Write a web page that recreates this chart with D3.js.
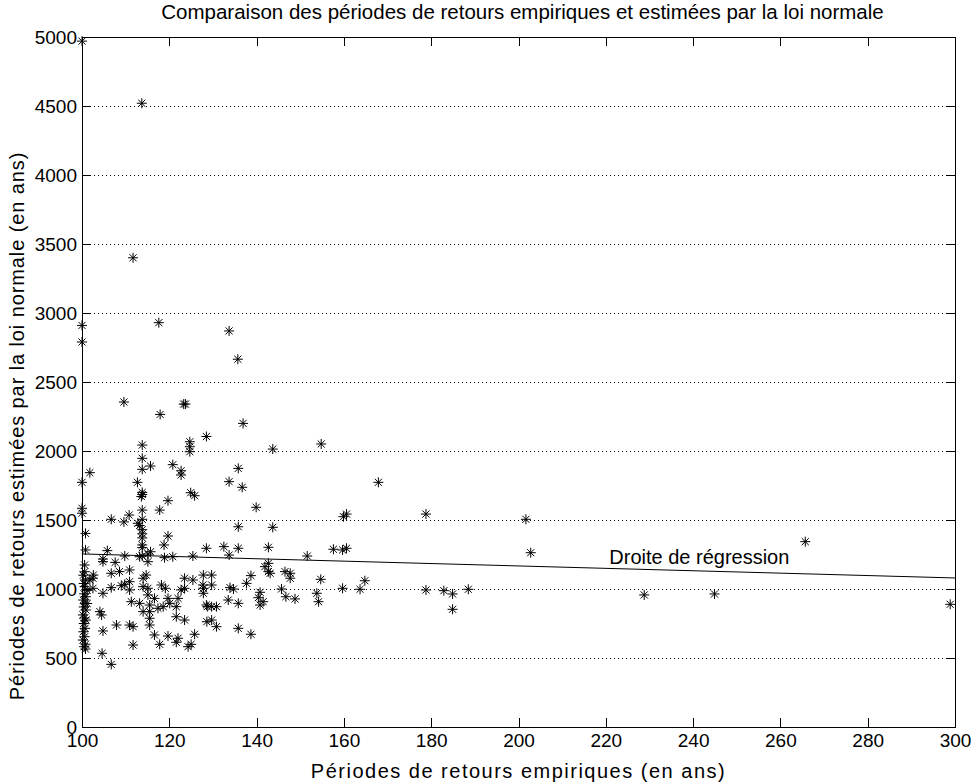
<!DOCTYPE html>
<html>
<head>
<meta charset="utf-8">
<script src="https://cdn.jsdelivr.net/npm/d3@7"></script>
<style>
  body { margin: 0; background: #fff; }
  text { font-family: "Liberation Sans", Arial, Helvetica, sans-serif; fill: #000; }
</style>
</head>
<body>
<svg id="chart" width="973" height="782"></svg>
<script>
// empirical return periods (years)
const empX = [
  100, 113.7, 111.7, 100, 100, 117.6, 133.7, 135.7, 109.6, 123.3, 123.7, 117.9, 136.9, 128.5,
  124.7, 124.7, 124.7, 143.7, 154.8, 113.8, 113.8, 115.7, 113.8, 120.8, 122.7, 122.7, 101.8,
  100, 112.7, 113.8, 113.8, 113.6, 124.9, 125.8, 119.7, 117.8, 113.8, 100, 100, 106.7, 109.6,
  110.8, 113.8, 113.2, 113.8, 113.8, 113.8, 112.8, 100.8, 119.7, 118.8, 113.8, 113.8, 115.7,
  100.8, 105.8, 109.8, 113.8, 115.1, 120.8, 125.4, 128.5, 104.8, 100.6, 104.8, 107.6, 113.2,
  118.9, 115.1,
  100.6, 100.3, 100.8, 100.4, 100.6, 101.2, 100.5, 100.9, 100.3, 100.7, 100.4, 100.9, 100.2,
  100.6, 100.9, 100.4, 100.7, 100.3, 100.6, 100.2, 100.8, 100.5, 100.8,
  102.5, 102.5, 104.8, 106.7, 108.6, 110.9, 106.7, 109.0, 109.8, 110.9, 110.9, 114.0, 114.7,
  114.0, 115.1, 115.1, 111.3, 113.2, 115.5, 114.0, 115.5, 115.5, 115.5, 118.2, 119.1, 116.6,
  119.7, 120.1, 118.6, 117.4, 122.0, 121.6, 123.5, 123.5, 122.7, 125.4,
  127.8, 129.7, 129.7, 127.7, 127.8, 127.8, 128.5, 128.6, 121.6, 123.5, 107.9, 110.9, 111.7,
  116.6, 119.7, 117.8, 122.0, 121.6, 125.8, 125.0, 124.3, 104.8, 111.7, 104.6, 106.7, 102.6,
  101.8, 104.1, 104.5, 101.2,
  135.8, 133.7, 136.7, 139.9, 135.8, 143.7, 132.5, 135.8, 142.7, 133.7, 151.6,
  141.9, 142.7, 142.7, 143.1, 146.5, 147.7, 147.7, 154.7, 138.7, 137.7, 133.9, 134.7, 133.5,
  135.8, 128.7, 129.7, 130.8, 129.7, 130.8, 135.8, 138.7, 140.8, 140.4, 140.8, 141.5, 145.7,
  146.7, 148.8, 153.8, 154.2,
  167.9, 159.9, 160.6, 178.8, 157.6, 159.7, 160.6, 164.8, 159.7, 163.7, 178.8, 182.9, 184.9,
  188.5, 184.9,
  201.7, 202.8, 228.8, 244.9, 265.7, 298.9
];
// return periods estimated with the normal law (years)
const estY = [
  4970, 4520, 3400, 2910, 2790, 2930, 2870, 2665, 2355, 2340, 2340, 2265, 2200, 2105,
  2067, 2031, 1995, 2014, 2051, 2043, 1947, 1891, 1867, 1901, 1857, 1826, 1843,
  1773, 1773, 1700, 1685, 1670, 1698, 1676, 1640, 1572, 1572, 1585, 1549, 1505, 1486,
  1536, 1505, 1460, 1430, 1400, 1370, 1476, 1403, 1384, 1319, 1319, 1300, 1270,
  1283, 1278, 1239, 1239, 1253, 1234, 1239, 1295, 1217, 1174, 1198, 1193, 1234,
  1227, 1198,
  1125, 1100, 1065, 1040, 1017, 990, 965, 944, 920, 896, 870, 848, 812,
  790, 775, 750, 715, 690, 654, 630, 600, 582, 565,
  1078, 1005, 969, 1114, 1126, 1138, 1010, 1024, 1034, 1053, 993, 1078, 1101,
  1017, 1005, 957, 908, 896, 884, 836, 836, 788, 739, 1029, 1005, 932,
  932, 896, 872, 860, 932, 872, 1078, 1005, 993, 1065,
  1101, 1101, 1029, 1029, 1005, 969, 884, 763, 799, 775, 739, 739, 727,
  667, 659, 599, 643, 614, 672, 599, 582, 696, 594, 534, 454, 1101,
  1065, 836, 812, 895,
  1874, 1778, 1737, 1592, 1451, 1447, 1307, 1295, 1302, 1246, 1239,
  1162, 1186, 1126, 1114, 1126, 1114, 1078, 1070, 1097, 1041, 1010, 1000, 920,
  896, 872, 872, 872, 775, 727, 715, 672, 976, 937, 884, 908, 1000,
  944, 928, 969, 908,
  1773, 1524, 1543, 1543, 1288, 1283, 1295, 1060, 1005, 998, 993, 988, 964,
  998, 853,
  1505, 1263, 957, 964, 1343, 889
];
// regression line end points
const regX = [100, 300];
const regY = [1254, 1080];

const xTicks = [100, 120, 140, 160, 180, 200, 220, 240, 260, 280, 300];
const yTicks = [0, 500, 1000, 1500, 2000, 2500, 3000, 3500, 4000, 4500, 5000];

const svg = d3.select("#chart");
const margin = {left: 82, right: 18, top: 37, bottom: 55};
const W = 973, H = 782;

const x = d3.scaleLinear().domain([100, 300]).range([margin.left, W - margin.right]);
const y = d3.scaleLinear().domain([0, 5000]).range([H - margin.bottom, margin.top]);
const tick = 9;

// horizontal dotted grid
svg.append("g")
  .selectAll("line")
  .data(yTicks.slice(1, -1))
  .join("line")
  .attr("x1", x(100)).attr("x2", x(300))
  .attr("y1", d => y(d)).attr("y2", d => y(d))
  .attr("stroke", "#000")
  .attr("stroke-width", 1)
  .attr("stroke-dasharray", "1,3")
  .attr("shape-rendering", "crispEdges");

// axes with inward ticks
const fmt = d3.format("d");
const gx = svg.append("g").attr("transform", `translate(0,${y(0)})`)
  .call(d3.axisBottom(x).tickValues(xTicks).tickFormat(fmt).tickSizeInner(-tick).tickSizeOuter(0).tickPadding(6));
const gy = svg.append("g").attr("transform", `translate(${x(100)},0)`)
  .call(d3.axisLeft(y).tickValues(yTicks).tickFormat(fmt).tickSizeInner(-tick).tickSizeOuter(0).tickPadding(5));
const gt = svg.append("g").attr("transform", `translate(0,${y(5000)})`)
  .call(d3.axisTop(x).tickValues(xTicks).tickFormat("").tickSizeInner(-tick).tickSizeOuter(0));
const gr = svg.append("g").attr("transform", `translate(${x(300)},0)`)
  .call(d3.axisRight(y).tickValues(yTicks).tickFormat("").tickSizeInner(-tick).tickSizeOuter(0));

[gx, gy, gt, gr].forEach(g => {
  g.select(".domain").remove();
  g.selectAll("line").attr("stroke", "#000").attr("shape-rendering", "crispEdges");
  g.selectAll("text").style("font-size", "19px").style("font-family", "Liberation Sans, Arial, sans-serif").attr("fill", "#000");
});
gy.selectAll("text").attr("dy", "0.36em");
gx.selectAll("text").attr("dy", "0.76em");

// box
svg.append("rect")
  .attr("x", x(100)).attr("y", y(5000))
  .attr("width", x(300) - x(100)).attr("height", y(0) - y(5000))
  .attr("fill", "none").attr("stroke", "#000").attr("stroke-width", 1)
  .attr("shape-rendering", "crispEdges");

// regression line
svg.append("line")
  .attr("x1", x(regX[0])).attr("y1", y(regY[0]))
  .attr("x2", x(regX[1])).attr("y2", y(regY[1]))
  .attr("stroke", "#000").attr("stroke-width", 1);

svg.append("text")
  .attr("x", x(220.8)).attr("y", y(1180))
  .style("font-size", "20px")
  .text("Droite de régression");

// asterisk markers
const r = 5, d = r * 0.7071;
const star = `M${-r},0H${r}M0,${-r}V${r}M${-d},${-d}L${d},${d}M${-d},${d}L${d},${-d}`;
svg.append("g")
  .selectAll("path")
  .data(d3.range(empX.length))
  .join("path")
  .attr("transform", i => `translate(${x(empX[i])},${y(estY[i])})`)
  .attr("d", star)
  .attr("fill", "none")
  .attr("stroke", "#000")
  .attr("stroke-width", 1);

// titles
svg.append("text")
  .attr("x", (x(100) + x(300)) / 2 + 4).attr("y", 19)
  .attr("text-anchor", "middle")
  .style("font-size", "20.5px")
  .text("Comparaison des périodes de retours empiriques et estimées par la loi normale");

svg.append("text")
  .attr("x", (x(100) + x(300)) / 2).attr("y", 778)
  .attr("text-anchor", "middle")
  .style("font-size", "20px")
  .style("letter-spacing", "1.5px")
  .text("Périodes de retours empiriques (en ans)");

svg.append("text")
  .attr("transform", `translate(24,${(y(0) + y(5000)) / 2 + 44}) rotate(-90)`)
  .attr("text-anchor", "middle")
  .style("font-size", "20px")
  .style("letter-spacing", "0.9px")
  .text("Périodes de retours estimées par la loi normale (en ans)");
</script>
</body>
</html>
